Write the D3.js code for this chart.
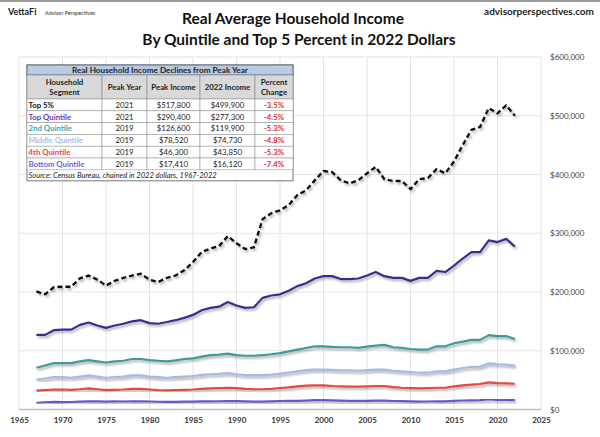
<!DOCTYPE html>
<html>
<head>
<meta charset="utf-8">
<script src="https://cdn.jsdelivr.net/npm/d3@7"></script>
<style>
  body { margin: 0; background: #fff; }
  svg { display: block; font-family: Lato, "Open Sans", sans-serif; }
</style>
</head>
<body>
<svg id="chart" width="600" height="437"></svg>
<script>
// years of the series
var years = d3.range(1967, 2023);

// values, 2022 dollars
var top5 = [201000, 196000, 208000, 209000, 209000, 223000, 228000, 221000, 211000, 219000,
    224000, 228000, 231000, 221000, 217000, 224000, 228000, 237000, 251000, 268000,
    274000, 278000, 295000, 283000, 273000, 276000, 324000, 334000, 339000, 348000,
    365000, 373000, 390000, 406000, 404000, 390000, 385000, 390000, 402000, 413000,
    392000, 389000, 389000, 375000, 392000, 394000, 409000, 402000, 422000, 450000,
    476000, 481000, 513000, 504000, 517800, 499900];
var topQuintile = [127000, 127000, 135000, 136000, 136000, 144000, 148000, 143000, 139000, 143000,
    146000, 150000, 152000, 147000, 146000, 149000, 152000, 156000, 161000, 169000,
    173000, 175000, 183000, 177000, 173000, 174000, 190000, 194000, 196000, 202000,
    210000, 215000, 223000, 227000, 227000, 222000, 222000, 223000, 228000, 234000,
    227000, 224000, 224000, 219000, 224000, 224000, 236000, 234000, 245000, 257000,
    268000, 268000, 288000, 285000, 290400, 277300];
var secondQuintile = [71000, 75000, 79000, 79000, 79000, 82000, 84000, 82000, 80000, 82000,
    83000, 86000, 86000, 84000, 83000, 82000, 83500, 86000, 87000, 90000,
    92500, 93500, 95000, 92500, 91500, 91500, 92500, 94000, 96000, 99000,
    102000, 104700, 107600, 107600, 106500, 106000, 106000, 105000, 107000, 108700,
    110000, 106000, 105000, 103000, 102000, 102000, 107600, 107600, 112800, 115600,
    118500, 118500, 126600, 125000, 125000, 119900];
var middleQuintile = [51000, 52800, 55000, 55000, 54000, 56000, 58000, 56000, 54000, 55000,
    56000, 58000, 58000, 56000, 55000, 54000, 55000, 56000, 57000, 59000,
    60000, 60500, 62000, 60000, 58500, 58500, 58500, 59500, 61000, 63000,
    65000, 67000, 68000, 68000, 67500, 66500, 66500, 66000, 67000, 68000,
    68000, 66000, 65000, 63800, 62600, 62600, 65000, 65000, 68000, 70600,
    72300, 73000, 78520, 77000, 76500, 74730];
var fourthQuintile = [32000, 33000, 34000, 34000, 33500, 34500, 36000, 34500, 33000, 33500,
    34000, 35000, 35000, 34000, 33000, 32500, 33000, 33500, 34000, 35000,
    36000, 36500, 37000, 36500, 35000, 34500, 34500, 35000, 36600, 37700,
    39400, 40500, 41000, 41000, 40000, 39400, 38800, 38800, 39400, 40000,
    40000, 38200, 37000, 36500, 36000, 36500, 37000, 37000, 39400, 41000,
    42200, 43400, 46300, 45000, 44400, 43850];
var bottomQuintile = [11500, 12300, 12900, 12700, 12800, 13400, 13900, 13900, 13500, 13700,
    13600, 13900, 14000, 13600, 13200, 13000, 13000, 13300, 13500, 13700,
    13800, 14000, 14300, 14100, 13700, 13400, 13400, 13800, 14500, 14600,
    14800, 15200, 15800, 15900, 15400, 15000, 14700, 14600, 14800, 15000,
    15100, 14500, 14100, 13700, 13500, 13600, 13800, 13900, 14700, 15300,
    15600, 15800, 17410, 16500, 16200, 16120];

// table
var tableTitle = "Real Household Income Declines from Peak Year";
var tableHeads = [["Household", "Segment"], ["Peak Year"], ["Peak Income"], ["2022 Income"], ["Percent", "Change"]];
var segments = ["Top 5%", "Top Quintile", "2nd Quintile", "Middle Quintile", "4th Quintile", "Bottom Quintile"];
var peakYears = ["2021", "2021", "2019", "2019", "2019", "2019"];
var peakIncome = ["$517,800", "$290,400", "$126,600", "$78,520", "$46,300", "$17,410"];
var income2022 = ["$499,900", "$277,300", "$119,900", "$74,730", "$43,850", "$16,120"];
var pctChange = ["-3.5%", "-4.5%", "-5.3%", "-4.8%", "-5.3%", "-7.4%"];
var sourceNote = "Source: Census Bureau, chained in 2022 dollars, 1967-2022";

var xTicks = d3.range(1965, 2026, 5);
var yTicks = [0, 100000, 200000, 300000, 400000, 500000, 600000];

var seriesColors = ["#111111", "#3e2b8e", "#3c9c98", "#a3bbe5", "#e2483f", "#6957cb"];
var labelColors = ["#111111", "#5a3fa8", "#3aa8a4", "#a8c0ea", "#e2483f", "#7460d8"];

var svg = d3.select("#chart");

// shadow for the lines
var defs = svg.append("defs");
defs.append("filter")
    .attr("id", "shadow")
    .attr("x", "-5%").attr("y", "-5%")
    .attr("width", "110%").attr("height", "120%")
    .append("feDropShadow")
    .attr("dx", 1.5).attr("dy", 2)
    .attr("stdDeviation", 1)
    .attr("flood-color", "#777")
    .attr("flood-opacity", 0.6);

// top border
svg.append("rect").attr("x", 0).attr("y", 0).attr("width", 600).attr("height", 2).attr("fill", "#9a9a9a");

// header texts
svg.append("text").attr("x", 8).attr("y", 15)
    .attr("font-size", 9).attr("font-weight", "bold").attr("fill", "#222").text("VettaFi");
svg.append("text").attr("x", 45).attr("y", 14.5)
    .attr("font-size", 5.5).attr("fill", "#333").text("Advisor Perspectives");
svg.append("text").attr("x", 594).attr("y", 15).attr("text-anchor", "end")
    .attr("font-size", 10).attr("font-weight", "bold").attr("fill", "#222").text("advisorperspectives.com");
svg.append("text").attr("x", 293).attr("y", 24).attr("text-anchor", "middle")
    .attr("font-size", 15.5).attr("font-weight", "bold").attr("fill", "#111").text("Real Average Household Income");
svg.append("text").attr("x", 299).attr("y", 45).attr("text-anchor", "middle")
    .attr("font-size", 15.5).attr("font-weight", "bold").attr("fill", "#111").text("By Quintile and Top 5 Percent in 2022 Dollars");

var x = d3.scaleLinear().domain([1965, 2025]).range([19, 541]);
var y = d3.scaleLinear().domain([0, 600000]).range([409.5, 57]);

// gridlines
var grid = svg.append("g");
grid.selectAll("line.v")
    .data(xTicks)
    .enter()
    .append("line")
    .attr("x1", function(d) { return x(d); })
    .attr("x2", function(d) { return x(d); })
    .attr("y1", y(600000))
    .attr("y2", y(0))
    .attr("stroke", "#e3e3e3")
    .attr("stroke-width", 1);
grid.selectAll("line.h")
    .data(yTicks)
    .enter()
    .append("line")
    .attr("x1", x(1965))
    .attr("x2", x(2025))
    .attr("y1", function(d) { return y(d); })
    .attr("y2", function(d) { return y(d); })
    .attr("stroke", function(d) { return d === 0 ? "#bdbdbd" : "#e3e3e3"; })
    .attr("stroke-width", function(d) { return d === 0 ? 1.5 : 1; });

// axes
var xAxis = svg.append("g")
    .attr("transform", "translate(0," + (y(0) + 3) + ")")
    .call(d3.axisBottom(x).tickValues(xTicks).tickFormat(d3.format("d")).tickSize(0));
xAxis.select(".domain").remove();
xAxis.selectAll("text")
    .attr("font-family", "Lato, sans-serif")
    .attr("font-size", 8).attr("font-weight", "bold").attr("fill", "#333")
    .attr("dy", "0.9em");

var yAxis = svg.append("g")
    .attr("transform", "translate(" + (x(2025) + 6) + ",0)")
    .call(d3.axisRight(y).tickValues(yTicks).tickFormat(function(d) { return "$" + d3.format(",")(d); }).tickSize(0));
yAxis.select(".domain").remove();
yAxis.selectAll("text")
    .attr("font-family", "Lato, sans-serif")
    .attr("font-size", 8).attr("fill", "#444");

// lines
var allSeries = [top5, topQuintile, secondQuintile, middleQuintile, fourthQuintile, bottomQuintile];
var line = d3.line()
    .x(function(d, i) { return x(years[i]); })
    .y(function(d) { return y(d); });

var lines = svg.append("g").attr("id", "lineLayer");
lines.selectAll("path")
    .data(allSeries.slice().reverse())
    .enter()
    .append("path")
    .attr("d", function(d) { return line(d); })
    .attr("fill", "none")
    .attr("stroke", function(d, i) { return seriesColors[allSeries.length - 1 - i]; })
    .attr("stroke-width", function(d, i) { return i === allSeries.length - 1 ? 2.4 : 2.2; })
    .attr("stroke-dasharray", function(d, i) { return i === allSeries.length - 1 ? "5,3" : null; })
    .attr("stroke-linejoin", "round")
    .attr("filter", "url(#shadow)");

// table
var colX = [27, 102, 147, 200, 255, 293];
var tTop = 65, titleH = 10, headH = 24, rowH = 11.8, srcH = 11;
var tbl = svg.append("g").attr("id", "table");
var tBottom = tTop + titleH + headH + rowH * segments.length + srcH;

tbl.append("rect").attr("x", colX[0]).attr("y", tTop)
    .attr("width", colX[5] - colX[0]).attr("height", tBottom - tTop)
    .attr("fill", "#fff").attr("stroke", "#777").attr("stroke-width", 1);
tbl.append("rect").attr("x", colX[0]).attr("y", tTop)
    .attr("width", colX[5] - colX[0]).attr("height", titleH)
    .attr("fill", "#b7cbe6").attr("stroke", "#555").attr("stroke-width", 0.8);
tbl.append("text").attr("x", (colX[0] + colX[5]) / 2).attr("y", tTop + 8)
    .attr("text-anchor", "middle").attr("font-size", 8.2).attr("font-weight", "bold").attr("fill", "#222")
    .text(tableTitle);

var headTop = tTop + titleH;
tbl.selectAll("rect.head")
    .data(tableHeads)
    .enter()
    .append("rect")
    .attr("x", function(d, i) { return colX[i]; })
    .attr("y", headTop)
    .attr("width", function(d, i) { return colX[i + 1] - colX[i]; })
    .attr("height", headH)
    .attr("fill", "#d9d9d9").attr("stroke", "#888").attr("stroke-width", 0.6);
tableHeads.forEach(function(h, i) {
    var cx = (colX[i] + colX[i + 1]) / 2;
    h.forEach(function(t, j) {
        var ty = h.length === 1 ? headTop + headH / 2 + 3 : headTop + 10 + j * 10;
        tbl.append("text").attr("x", cx).attr("y", ty)
            .attr("text-anchor", "middle").attr("font-size", 7.8).attr("font-weight", "bold").attr("fill", "#222")
            .text(t);
    });
});

var rowTop = headTop + headH;
var columns = [segments, peakYears, peakIncome, income2022, pctChange];
segments.forEach(function(s, r) {
    var ry = rowTop + r * rowH;
    columns.forEach(function(col, c) {
        tbl.append("rect").attr("x", colX[c]).attr("y", ry)
            .attr("width", colX[c + 1] - colX[c]).attr("height", rowH)
            .attr("fill", "#fff").attr("stroke", "#999").attr("stroke-width", 0.6);
        var t = tbl.append("text").attr("y", ry + rowH - 3).attr("font-size", 7.8).text(col[r]);
        if (c === 0) {
            t.attr("x", colX[0] + 1.5).attr("font-weight", "bold").attr("fill", labelColors[r]);
        } else if (c === 4) {
            t.attr("x", (colX[c] + colX[c + 1]) / 2).attr("text-anchor", "middle")
                .attr("font-weight", "bold").attr("fill", "#d9302c");
        } else {
            t.attr("x", (colX[c] + colX[c + 1]) / 2).attr("text-anchor", "middle").attr("fill", "#222");
        }
    });
});
var srcTop = rowTop + rowH * segments.length;
tbl.append("text").attr("x", colX[0] + 1.5).attr("y", srcTop + 8)
    .attr("font-size", 7.5).attr("font-style", "italic").attr("fill", "#222")
    .text(sourceNote);
</script>
</body>
</html>
